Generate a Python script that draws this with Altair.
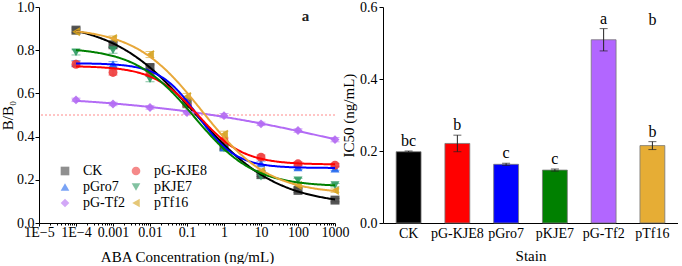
import altair as alt
import numpy as np
import pandas as pd

FONT = "Liberation Serif"

# ---------------- Panel a data ----------------
conc = [1e-4, 1e-3, 1e-2, 1e-1, 1, 10, 100, 1000]
# legend fills column-first: CK, pGro7, pG-Tf2 | pG-KJE8, pKJE7, pTf16
series = ["CK", "pGro7", "pG-Tf2", "pG-KJE8", "pKJE7", "pTf16"]
ck     = [0.893, 0.825, 0.720, 0.555, 0.355, 0.225, 0.151, 0.106]
gro7   = [0.740, 0.735, 0.700, 0.565, 0.350, 0.276, 0.258, 0.252]
g_tf2  = [0.570, 0.551, 0.535, 0.512, 0.497, 0.459, 0.428, 0.386]
g_kje8 = [0.735, 0.697, 0.690, 0.550, 0.380, 0.305, 0.274, 0.268]
kje7   = [0.790, 0.800, 0.666, 0.545, 0.345, 0.215, 0.197, 0.175]
tf16   = [0.885, 0.854, 0.780, 0.586, 0.411, 0.240, 0.174, 0.150]
err_ck     = [0.010, 0.012, 0.012, 0.012, 0.012, 0.010, 0.010, 0.008]
err_gro7   = [0.012, 0.012, 0.012, 0.012, 0.012, 0.010, 0.010, 0.008]
err_g_tf2  = [0.008, 0.008, 0.008, 0.008, 0.010, 0.008, 0.008, 0.010]
err_g_kje8 = [0.012, 0.012, 0.012, 0.012, 0.012, 0.010, 0.010, 0.008]
err_kje7   = [0.012, 0.014, 0.012, 0.012, 0.012, 0.010, 0.010, 0.008]
err_tf16   = [0.010, 0.012, 0.014, 0.014, 0.014, 0.010, 0.010, 0.008]
values = [ck, gro7, g_tf2, g_kje8, kje7, tf16]
errors = [err_ck, err_gro7, err_g_tf2, err_g_kje8, err_kje7, err_tf16]

marker_colors = ["#444444", "#1f66ee", "#b46cf2", "#ee3b3b", "#2f9a62", "#d4a11c"]
line_colors   = ["#000000", "#0000ff", "#b36bf5", "#ff0000", "#008000", "#e8a83a"]
shapes = ["square", "triangle-up", "diamond", "circle", "triangle-down", "triangle-left"]

x_ticks = [1e-5, 1e-4, 1e-3, 1e-2, 1e-1, 1, 10, 100, 1000]
x_tick_labels = ["1E−5", "1E−4", "0.001", "0.01", "0.1", "1", "10", "100", "1000"]
y_ticks = [0, 0.1, 0.2, 0.3, 0.4, 0.5, 0.6, 0.7, 0.8, 0.9, 1.0]

# ---------------- Panel b data ----------------
strains = ["CK", "pG-KJE8", "pGro7", "pKJE7", "pG-Tf2", "pTf16"]
ic50 = [0.198, 0.221, 0.163, 0.147, 0.509, 0.215]
ic50_err = [0.002, 0.023, 0.003, 0.003, 0.031, 0.011]
letters = ["bc", "b", "c", "c", "a", "b"]
bar_colors = ["#000000", "#ff0000", "#0000ff", "#008000", "#b266ff", "#e6ad35"]
yb_ticks = [0, 0.05, 0.1, 0.15, 0.2, 0.25, 0.3, 0.35, 0.4, 0.45, 0.5, 0.55, 0.6]


# 4-parameter logistic least-squares fit of the read points (the original shows fitted curves)
def fit4pl(x, y):
    lx = np.log10(np.asarray(x, float))
    y = np.asarray(y, float)
    lx0 = np.arange(-3, 4.001, 0.01)
    pp = np.arange(0.1, 3.001, 0.01)
    L, P = np.meshgrid(lx0, pp, indexing="ij")
    L = L.ravel()[:, None]
    P = P.ravel()[:, None]
    g = 1.0 / (1.0 + 10.0 ** ((lx[None, :] - L) * P))
    h = 1.0 - g
    sgg = (g * g).sum(1); shh = (h * h).sum(1); sgh = (g * h).sum(1)
    sgy = (g * y).sum(1); shy = (h * y).sum(1)
    det = sgg * shh - sgh ** 2
    with np.errstate(all="ignore"):
        A1 = (sgy * shh - shy * sgh) / det
        A2 = (shy * sgg - sgy * sgh) / det
        res = ((A1[:, None] * g + A2[:, None] * h - y) ** 2).sum(1)
    res[~np.isfinite(res) | (np.abs(det) < 1e-9)] = np.inf
    i = int(np.argmin(res))
    return A1[i], A2[i], 10 ** L[i, 0], P[i, 0]


pts_rows, curve_rows = [], []
xs = np.logspace(-4, 3, 240)
for s, vals, errs, mc, lc in zip(series, values, errors, marker_colors, line_colors):
    for x, v, e in zip(conc, vals, errs):
        pts_rows.append({"series": s, "conc": x, "y": v, "lo": v - e, "hi": v + e, "ec": mc})
    A1, A2, x0, p = fit4pl(conc, vals)
    for x in xs:
        curve_rows.append({"series": s, "conc": float(x),
                           "y": float(A2 + (A1 - A2) / (1 + (x / x0) ** p)), "lc": lc})
pts = pd.DataFrame(pts_rows)
curves = pd.DataFrame(curve_rows)

# major ticks at decades + minor ticks 2..9
x_all_ticks = [m * v for v in x_ticks[:-1] for m in range(1, 10)] + [x_ticks[-1]]
is_decade = "abs(log(datum.value)/LN10 - round(log(datum.value)/LN10)) < 0.001"
label_expr = f"!({is_decade}) ? '' : " + "".join(
    f"round(log(datum.value)/LN10)=={int(round(np.log10(v)))} ? '{l}' : "
    for v, l in zip(x_ticks, x_tick_labels)) + "''"

xscale = alt.Scale(type="log", domain=[1e-5, 1000], nice=False)
yscale = alt.Scale(domain=[0, 1], nice=False)
xaxis = alt.Axis(values=x_all_ticks, labelExpr=label_expr, title="ABA Concentration (ng/mL)",
                 tickSize={"condition": {"test": is_decade, "value": 3}, "value": 2},
                 labelPadding=-1, titlePadding=10, labelFlush=False, labelOverlap=False)
is_major_y = "abs(round(datum.value*10) % 2) < 0.5"
yaxis = alt.Axis(values=y_ticks, title="B/B₀",
                 labelExpr=f"{is_major_y} ? format(datum.value, '.1f') : ''",
                 tickSize={"condition": {"test": is_major_y, "value": 4}, "value": 2},
                 labelPadding=1, titlePadding=1)

legend = alt.Legend(orient="none", legendX=19, legendY=157, columns=2, title=None,
                    labelFont=FONT, labelFontSize=14, symbolSize=75, symbolStrokeWidth=0,
                    symbolOpacity=0.9, columnPadding=4, rowPadding=2, labelOffset=11,
                    padding=0)

base_a = alt.Chart(pts)
err_rule = base_a.mark_rule(strokeWidth=1, opacity=0.6).encode(
    x=alt.X("conc:Q", scale=xscale, axis=xaxis), y=alt.Y("lo:Q", scale=yscale, axis=yaxis),
    y2="hi:Q", color=alt.Color("ec:N", scale=None))
err_lo = base_a.mark_tick(orient="horizontal", size=9, thickness=1, opacity=0.6).encode(
    x="conc:Q", y="lo:Q", color=alt.Color("ec:N", scale=None))
err_hi = base_a.mark_tick(orient="horizontal", size=9, thickness=1, opacity=0.6).encode(
    x="conc:Q", y="hi:Q", color=alt.Color("ec:N", scale=None))
points = base_a.mark_point(filled=True, size=80, opacity=0.9).encode(
    x="conc:Q", y="y:Q",
    color=alt.Color("series:N", scale=alt.Scale(domain=series, range=marker_colors), legend=legend),
    shape=alt.Shape("series:N", scale=alt.Scale(domain=series, range=shapes), legend=legend))
lines = alt.Chart(curves).mark_line(strokeWidth=2).encode(
    x="conc:Q", y="y:Q", detail="series:N", color=alt.Color("lc:N", scale=None))
ref = alt.Chart(pd.DataFrame({"y": [0.5]})).mark_rule(
    color="#ff8a8a", strokeDash=[2, 2], strokeWidth=1).encode(y="y:Q")
tag_a = alt.Chart(pd.DataFrame({"t": ["a"]})).mark_text(
    font=FONT, fontSize=15, fontWeight="bold", color="#222").encode(
    text="t:N", x=alt.datum(160), y=alt.datum(0.96))

left = alt.layer(ref, err_rule, err_lo, err_hi, points, lines, tag_a).properties(width=296, height=216)

# ---------------- Panel b ----------------
bars_df = pd.DataFrame({"strain": strains, "ic50": ic50, "err": ic50_err,
                        "letter": letters, "color": bar_colors})
bars_df["lo"] = bars_df["ic50"] - bars_df["err"]
bars_df["hi"] = bars_df["ic50"] + bars_df["err"]

xb = alt.X("strain:N", sort=strains,
           scale=alt.Scale(paddingInner=0.49, paddingOuter=0.27),
           axis=alt.Axis(title="Stain", labelAngle=0, tickSize=0, labelPadding=3, titlePadding=8))
yb_scale = alt.Scale(domain=[0, 0.6], nice=False)
is_major_b = "abs(round(datum.value*20) % 2) < 0.5"
yb = alt.Y("ic50:Q", scale=yb_scale,
           axis=alt.Axis(values=yb_ticks, title="IC50 (ng/mL)",
                         labelExpr=f"{is_major_b} ? format(datum.value, '.1f') : ''",
                         tickSize={"condition": {"test": is_major_b, "value": 4}, "value": 2},
                         labelPadding=2, titlePadding=3))
base_b = alt.Chart(bars_df)
bars = base_b.mark_bar(stroke="#777777", strokeWidth=0.8).encode(
    x=xb, y=yb, color=alt.Color("color:N", scale=None))
b_rule = base_b.mark_rule(color="#222", strokeWidth=1).encode(
    x=alt.X("strain:N", sort=strains), y="lo:Q", y2="hi:Q")
b_lo = base_b.mark_tick(orient="horizontal", size=8, thickness=1, color="#222").encode(
    x=alt.X("strain:N", sort=strains), y="lo:Q")
b_hi = base_b.mark_tick(orient="horizontal", size=8, thickness=1, color="#222").encode(
    x=alt.X("strain:N", sort=strains), y="hi:Q")
b_txt = base_b.mark_text(font=FONT, fontSize=16, baseline="bottom", dy=-2, color="black").encode(
    x=alt.X("strain:N", sort=strains), y="hi:Q", text="letter:N")
tag_b = alt.Chart(pd.DataFrame({"t": ["b"]})).mark_text(
    font=FONT, fontSize=16, color="black").encode(
    text="t:N", x=alt.datum("pTf16"), y=alt.datum(0.565))

right = alt.layer(bars, b_rule, b_lo, b_hi, b_txt, tag_b).properties(width=295, height=216)

chart = alt.hconcat(left, right, spacing=48, bounds="flush").properties(
    padding={"left": 0, "top": 0, "right": 0, "bottom": 0}
).configure_view(stroke=None).configure_axis(
    grid=False, domainColor="black", tickColor="black", labelColor="black",
    titleColor="black", labelFont=FONT, titleFont=FONT, labelFontSize=14,
    titleFontSize=15, titleFontWeight="normal", domainWidth=1, tickWidth=1
)

chart.save("out.html", embed_options={"renderer": "svg", "actions": False})
